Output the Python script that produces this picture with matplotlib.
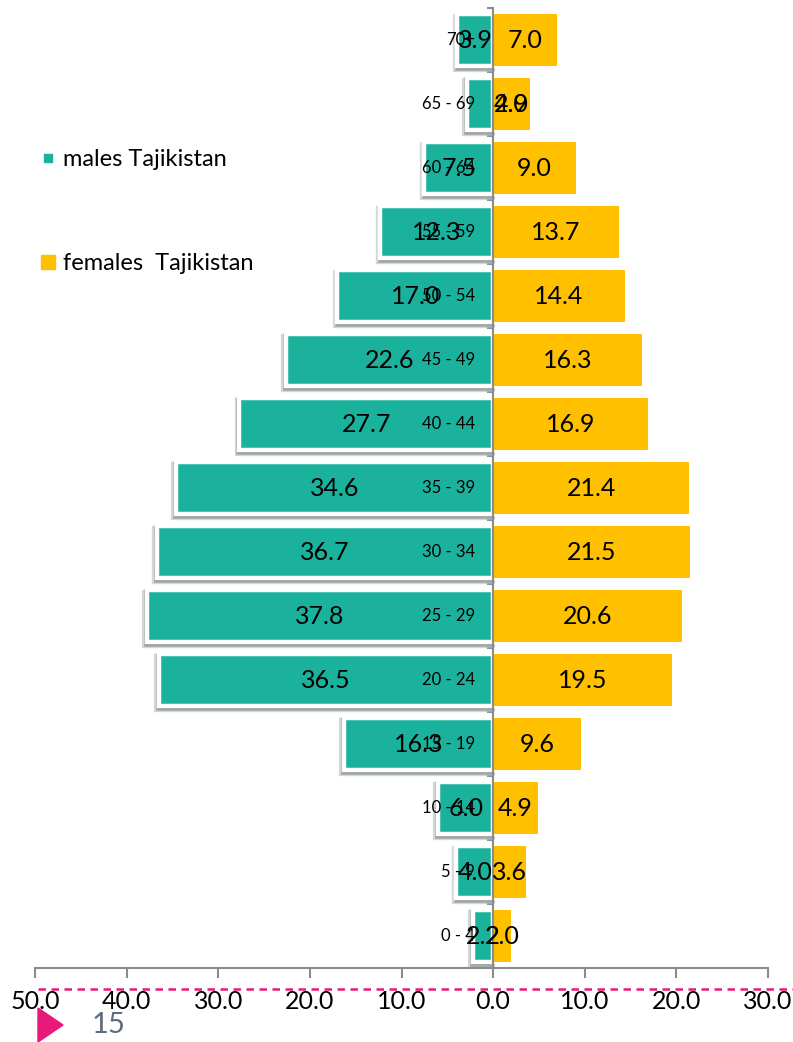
import matplotlib.pyplot as plt
import matplotlib.patheffects as pe
from matplotlib.lines import Line2D
from matplotlib.patches import Polygon

plt.rcParams['font.family'] = ['Lato', 'DejaVu Sans']

ages = ["0 - 4", "5 - 9", "10 - 14", "15 - 19", "20 - 24", "25 - 29", "30 - 34",
        "35 - 39", "40 - 44", "45 - 49", "50 - 54", "55 - 59", "60 - 64", "65 - 69", "70+"]
males = [2.2, 4.0, 6.0, 16.3, 36.5, 37.8, 36.7, 34.6, 27.7, 22.6, 17.0, 12.3, 7.5, 2.9, 3.9]
females = [2.0, 3.6, 4.9, 9.6, 19.5, 20.6, 21.5, 21.4, 16.9, 16.3, 14.4, 13.7, 9.0, 4.0, 7.0]
xticks = [-50, -40, -30, -20, -10, 0, 10, 20, 30]

teal = "#1BB29D"
yellow = "#FFC000"
grey = "#8C8C8C"

fig = plt.figure(figsize=(7.93, 10.42), dpi=100)
ax = fig.add_axes([35 / 793, 74 / 1042, 733 / 793, 960 / 1042])

y = list(range(len(ages)))
mbars = ax.barh(y, [-m for m in males], height=0.82, color=teal, edgecolor="white",
                linewidth=3.2, zorder=2)
for b in mbars:
    b.set_path_effects([
        pe.Stroke(offset=(-1.2, -2.2), linewidth=4.5, foreground="#bbbbbb", alpha=0.6),
        pe.SimplePatchShadow(offset=(-1.2, -2.2), shadow_rgbFace="#999999", alpha=0.6),
        pe.Stroke(offset=(-0.6, -1.2), linewidth=3.4, foreground="#888888", alpha=0.6),
        pe.Normal()])
ax.barh(y, females, height=0.82, color=yellow, zorder=2)

for i in y:
    mx = -males[i] / 2
    if ages[i] == "65 - 69":
        mx = females[i] / 2
    ax.text(mx, i, f"{males[i]:.1f}", ha="center", va="center", fontsize=18, zorder=5)
    ax.text(females[i] / 2, i, f"{females[i]:.1f}", ha="center", va="center", fontsize=18, zorder=5)
    # age group label, drawn over the bars
    ax.annotate(ages[i], (0, i), xytext=(-13, 0), textcoords="offset points",
                ha="right", va="center", fontsize=12, zorder=6)

ax.set_xlim(-50, 30)
ax.set_ylim(-0.5, len(ages) - 0.5)

ax.spines[["top", "right"]].set_visible(False)
ax.spines["left"].set_position(("data", 0))
ax.spines["left"].set_color(grey)
ax.spines["left"].set_linewidth(1.5)
ax.spines["left"].set_zorder(3)
ax.spines["bottom"].set_color(grey)
ax.spines["bottom"].set_linewidth(1.5)

ax.set_yticks([i - 0.5 for i in range(len(ages) + 1)])
ax.set_yticklabels([])
ax.tick_params(axis="y", length=4, color=grey, width=1.5)

ax.set_xticks(xticks)
ax.set_xticklabels([f"{abs(v):.1f}" for v in xticks], fontsize=18)
ax.tick_params(axis="x", length=7, color=grey, width=1.5, pad=9)

handles = [Line2D([], [], marker="s", color=teal, ls="", ms=6),
           Line2D([], [], marker="s", color=yellow, ms=9.5, ls="")]
fig.legend(handles, ["males Tajikistan", "females  Tajikistan"], loc="upper left",
           bbox_to_anchor=(15 / 793, 1 - 128 / 1042), frameon=False, fontsize=17,
           labelspacing=3.5, handletextpad=0.15, handlelength=1.0)

# slide footer
fig.add_artist(Line2D([38 / 793, 1], [1 - 989 / 1042] * 2, color="#E8197A", lw=1.8,
                      ls=(0, (3, 2.2)), transform=fig.transFigure))
fig.add_artist(Polygon([[38 / 793, 1 - 1008 / 1042], [38 / 793, 0], [63 / 793, 1 - 1025 / 1042]],
                       closed=True, color="#E8197A", transform=fig.transFigure))
fig.text(92 / 793, 1 - 1025 / 1042, "15", fontsize=21, color="#5B6B80", va="center")

fig.savefig("out.png", dpi=100)
